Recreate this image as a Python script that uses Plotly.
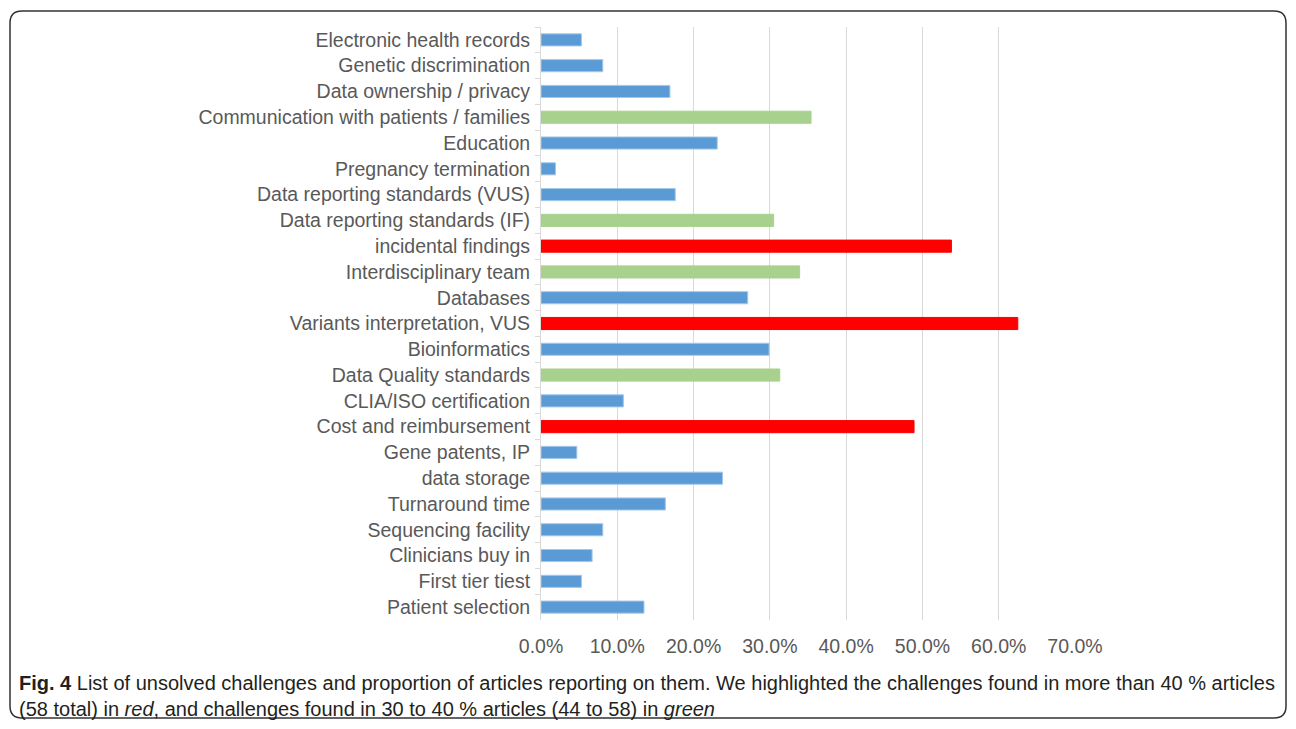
import plotly.graph_objects as go

categories = [
    "Electronic health records", "Genetic discrimination", "Data ownership / privacy",
    "Communication with patients / families", "Education", "Pregnancy termination",
    "Data reporting standards (VUS)", "Data reporting standards (IF)", "incidental findings",
    "Interdisciplinary team", "Databases", "Variants interpretation, VUS", "Bioinformatics",
    "Data Quality standards", "CLIA/ISO certification", "Cost and reimbursement",
    "Gene patents, IP", "data storage", "Turnaround time", "Sequencing facility",
    "Clinicians buy in", "First tier tiest", "Patient selection",
]
values_pct = [5.3, 8.1, 16.9, 35.4, 23.1, 1.9, 17.6, 30.5, 53.8, 33.9, 27.1, 62.5, 29.9,
              31.3, 10.8, 48.9, 4.7, 23.8, 16.3, 8.1, 6.7, 5.3, 13.5]
groups = ["b", "b", "b", "g", "b", "b", "b", "g", "r", "g", "b", "r", "b",
          "g", "b", "r", "b", "b", "b", "b", "b", "b", "b"]
x_tick_vals = [0, 0.1, 0.2, 0.3, 0.4, 0.5, 0.6, 0.7]

fill = {"b": "#5B9BD5", "g": "#A9D18E", "r": "#FF0000"}
edge = {"b": "#A4C8EA", "g": "#A9D18E", "r": "#FF0000"}

fig = go.Figure(go.Bar(
    y=categories, x=[v / 100 for v in values_pct], orientation="h",
    marker=dict(color=[fill[g] for g in groups],
                line=dict(color=[edge[g] for g in groups], width=1)),
    hoverinfo="skip",
))

OFF = 8  # page body margin offset
W, H = 1296, 729
L, R, T, B = 541 - OFF, 1075 - OFF, 27 - OFF, 620 - OFF
fig.update_layout(
    width=W, height=H,
    margin=dict(l=L, r=W - R, t=T, b=H - B),
    paper_bgcolor="white", plot_bgcolor="white",
    bargap=0.53, showlegend=False,
    font=dict(family="Liberation Sans, Arial, sans-serif", size=19.5, color="#595959"),
)
fig.update_xaxes(range=[0, 0.7], tickvals=x_tick_vals, tickformat=".1%",
                 showgrid=True, gridcolor="#D9D9D9", gridwidth=1, zeroline=False,
                 showline=False, ticks="", ticklabelstandoff=12,
                 tickfont=dict(size=19.5, color="#595959"))
fig.update_yaxes(autorange="reversed", showgrid=False, showline=True,
                 linecolor="#D9D9D9", linewidth=1, ticks="outside", tickson="boundaries",
                 ticklen=5, tickcolor="#D9D9D9", ticklabelstandoff=6,
                 tickfont=dict(size=19.5, color="#595959"))

def px(x):
    return (x - OFF - L) / (R - L)

def py(y):
    return (B - (y - OFF)) / (B - T)

# rounded border box
x0, x1, y0, y1, rr = 10, 1286, 11, 718, 12
path = (f"M {px(x0+rr)} {py(y0)} L {px(x1-rr)} {py(y0)} Q {px(x1)} {py(y0)} {px(x1)} {py(y0+rr)} "
        f"L {px(x1)} {py(y1-rr)} Q {px(x1)} {py(y1)} {px(x1-rr)} {py(y1)} "
        f"L {px(x0+rr)} {py(y1)} Q {px(x0)} {py(y1)} {px(x0)} {py(y1-rr)} "
        f"L {px(x0)} {py(y0+rr)} Q {px(x0)} {py(y0)} {px(x0+rr)} {py(y0)} Z")
fig.add_shape(type="path", xref="paper", yref="paper", path=path,
              line=dict(color="#333333", width=1.5), layer="above")

caption = ("<b>Fig. 4</b> List of unsolved challenges and proportion of articles reporting on them. "
           "We highlighted the challenges found in more than 40 % articles<br>"
           "(58 total) in <i>red</i>, and challenges found in 30 to 40 % articles (44 to 58) in <i>green</i>")
fig.add_annotation(text=caption, xref="paper", yref="paper", x=px(17), y=py(670),
                   xanchor="left", yanchor="top", align="left", showarrow=False,
                   font=dict(family="Liberation Sans, Arial, sans-serif",
                             size=20, color="#231F20"))

fig.write_html("out.html")
